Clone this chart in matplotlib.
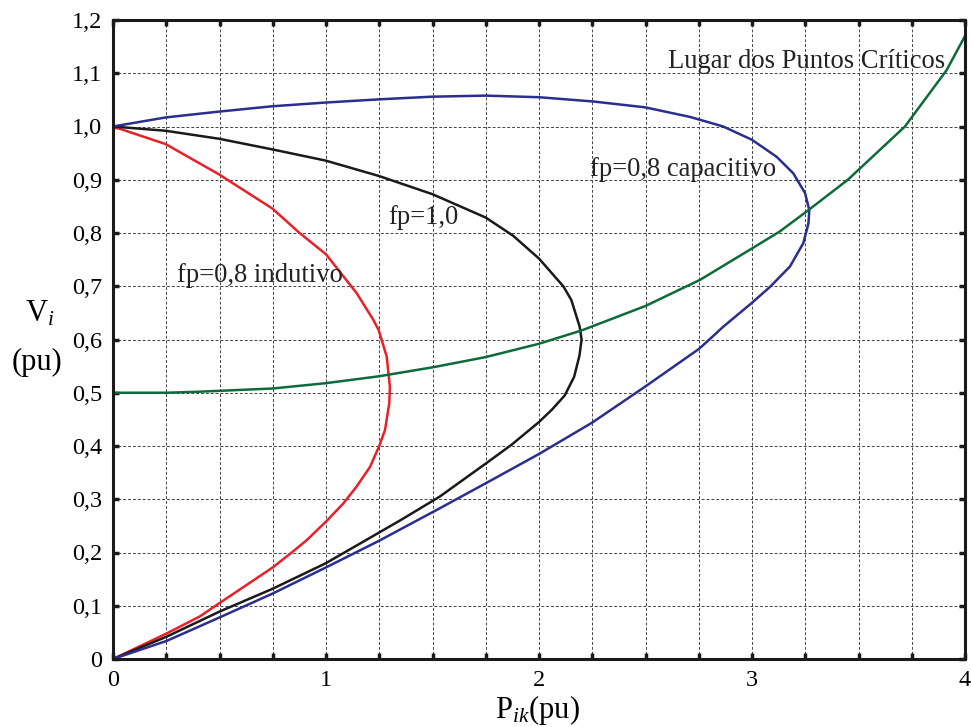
import matplotlib
matplotlib.use("Agg")
import matplotlib.pyplot as plt
import numpy as np

# Curvas PV
p_ind = [0, 0.247, 0.498, 0.748, 0.876, 1.0, 1.144, 1.222, 1.247, 1.285, 1.300, 1.297,
         1.277, 1.25, 1.207, 1.144, 1.081, 1.0, 0.909, 0.839, 0.75, 0.627, 0.5, 0.408, 0.252, 0]
v_ind = [1.0, 0.967, 0.910, 0.846, 0.800, 0.760, 0.687, 0.637, 0.618, 0.568, 0.511, 0.480,
         0.430, 0.400, 0.361, 0.324, 0.292, 0.258, 0.223, 0.200, 0.172, 0.139, 0.105, 0.080, 0.048, 0]

p_unit = [0, 0.247, 0.498, 0.748, 0.998, 1.249, 1.499, 1.750, 1.878, 2.0, 2.114, 2.152, 2.191,
          2.200, 2.190, 2.165, 2.121, 2.060, 2.0, 1.870, 1.75, 1.534, 1.347, 1.0, 0.75, 0.5, 0.252, 0]
v_unit = [1.0, 0.992, 0.977, 0.957, 0.936, 0.907, 0.873, 0.829, 0.795, 0.752, 0.700, 0.674, 0.624,
          0.600, 0.570, 0.530, 0.495, 0.468, 0.445, 0.402, 0.367, 0.305, 0.260, 0.180, 0.132, 0.089, 0.042, 0]

p_cap = [0, 0.247, 0.498, 0.748, 0.998, 1.249, 1.499, 1.750, 2.0, 2.254, 2.498, 2.709, 2.865,
         3.0, 3.116, 3.194, 3.249, 3.269, 3.265, 3.241, 3.178, 3.085, 3.0, 2.865, 2.8, 2.75, 2.5,
         2.25, 2.0, 1.75, 1.534, 1.347, 1.254, 1.0, 0.75, 0.5, 0.252, 0]
v_cap = [1.0, 1.017, 1.028, 1.038, 1.045, 1.051, 1.056, 1.058, 1.055, 1.047, 1.036, 1.018, 1.0,
         0.975, 0.943, 0.912, 0.875, 0.843, 0.818, 0.781, 0.737, 0.699, 0.669, 0.624, 0.600, 0.582, 0.512,
         0.444, 0.385, 0.330, 0.283, 0.243, 0.223, 0.172, 0.123, 0.078, 0.034, 0]

# Lugar dos pontos criticos
p_crit = [0, 0.252, 0.408, 0.75, 1.0, 1.25, 1.504, 1.75, 2.0, 2.2, 2.5, 2.709, 2.756,
          3.0, 3.131, 3.265, 3.45, 3.718, 3.914, 4.0]
v_crit = [0.5, 0.500, 0.502, 0.508, 0.518, 0.531, 0.548, 0.567, 0.592, 0.617, 0.663, 0.703, 0.712,
          0.771, 0.803, 0.843, 0.9, 1.0, 1.106, 1.17]

y_ticks = [0, 0.1, 0.2, 0.3, 0.4, 0.5, 0.6, 0.7, 0.8, 0.9, 1.0, 1.1, 1.2]
y_labels = ["0", "0,1", "0,2", "0,3", "0,4", "0,5", "0,6", "0,7", "0,8", "0,9", "1,0", "1,1", "1,2"]
x_ticks = [0, 1, 2, 3, 4]

plt.rcParams['font.family'] = ['Liberation Serif', 'DejaVu Serif']
plt.rcParams['mathtext.fontset'] = 'custom'
plt.rcParams['mathtext.rm'] = 'Liberation Serif'
plt.rcParams['mathtext.it'] = 'Liberation Serif:italic'

fig = plt.figure(figsize=(9.71, 7.27), dpi=100)
ax = fig.add_axes([113/971, 1 - 659/727, 852/971, 639/727])

lw = 1.8
ax.plot(p_ind, v_ind, color='#e8202a', lw=lw, solid_joinstyle='round')
ax.plot(p_unit, v_unit, color='#1a1a1a', lw=lw, solid_joinstyle='round')
ax.plot(p_cap, v_cap, color='#2b2e8e', lw=lw, solid_joinstyle='round')
ax.plot(p_crit, v_crit, color='#0d6b3b', lw=lw, solid_joinstyle='round')

ax.set_xlim(0, 4)
ax.set_ylim(0, 1.2)
ax.set_xticks(x_ticks)
ax.set_xticks(np.arange(0, 4.01, 0.25), minor=True)
ax.set_yticks(y_ticks)
ax.set_yticklabels(y_labels)

ax.grid(True, which='both', color='#444444', lw=0.7, ls=(0, (3, 2)))
ax.tick_params(which='both', direction='in', length=4, width=2.5, top=True, right=True,
               labelsize=17.5, pad=8, color='#1a1a1a')
for s in ax.spines.values():
    s.set_linewidth(2.2)
    s.set_color('#1a1a1a')

tsz = 19.2
ax.text(0.299, 0.7086, "fp=0,8 indutivo", fontsize=tsz, va='baseline', color='#222222')
ax.text(1.293, 0.8169, "fp=1,0", fontsize=tsz, va='baseline', color='#222222')
ax.text(2.239, 0.9076, "fp=0,8 capacitivo", fontsize=tsz, va='baseline', color='#222222')
ax.text(2.607, 1.1093, "Lugar dos Puntos Críticos", fontsize=tsz, va='baseline', color='#222222')

fig.text(25/971, 1 - 322/727, r'$\mathrm{V}_{i}$', fontsize=22, ha='left', va='baseline')
fig.text(12/971, 1 - 370/727, "(pu)", fontsize=22, ha='left', va='baseline')
fig.text(537/971, 1 - 718/727, r'$\mathrm{P}_{ik}$(pu)', fontsize=22, ha='center', va='baseline')

fig.savefig("out.png", dpi=100)
